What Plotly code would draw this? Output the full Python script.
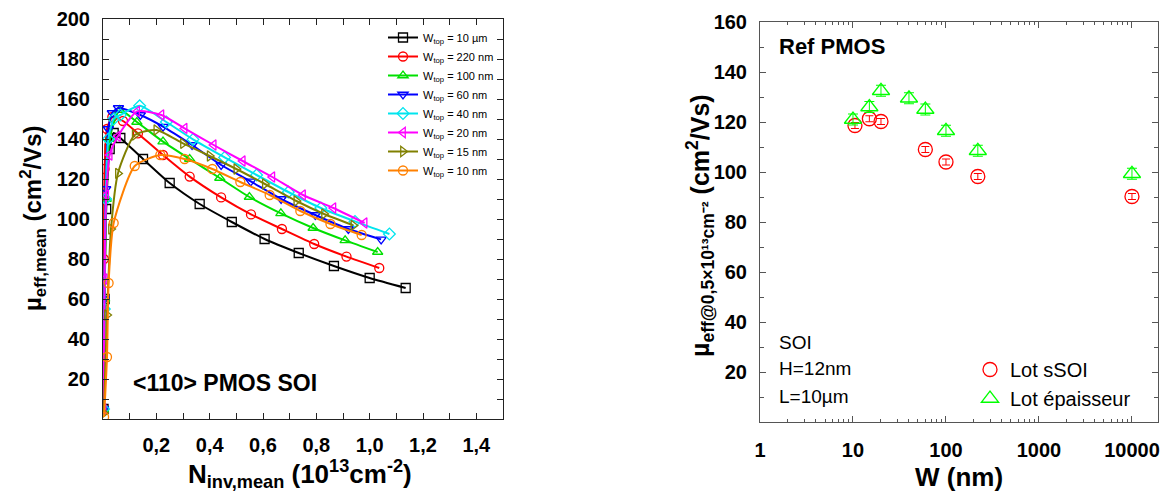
import plotly.graph_objects as go

# ---------------- Left panel data : mu_eff,mean vs N_inv,mean ----------------
N_10um = [0.002, 0.006, 0.012, 0.025, 0.04, 0.065, 0.15, 0.25, 0.3625, 0.483, 0.606, 0.734, 0.866, 1.0, 1.135]
MU_10um = [5, 60, 105, 135, 143, 140.5, 130, 118, 107.5, 98.5, 90, 83, 76.5, 70.5, 65.5]

N_220nm = [0.001, 0.003, 0.006, 0.015, 0.035, 0.075, 0.131, 0.225, 0.325, 0.443, 0.555, 0.671, 0.792, 0.913, 1.036]
MU_220nm = [5, 80, 125, 145, 151, 149, 142.8, 132, 121.2, 110.8, 102.3, 95, 87.5, 81.2, 75.5]

N_100nm = [0.002, 0.006, 0.012, 0.025, 0.0625, 0.127, 0.225, 0.325, 0.438, 0.549, 0.667, 0.788, 0.908, 1.03]
MU_100nm = [5, 60, 110, 140, 154.5, 148.5, 138.7, 130, 120.5, 111, 102.8, 95.5, 89.3, 83.5]

N_60nm = [0.002, 0.005, 0.01, 0.02, 0.035, 0.058, 0.14, 0.225, 0.334, 0.443, 0.554, 0.668, 0.796, 0.92, 1.043]
MU_60nm = [5, 60, 115, 145, 153, 155.5, 152, 146.2, 137, 127, 118.8, 110, 102, 95, 89.8]

N_40nm = [0.002, 0.005, 0.01, 0.02, 0.04, 0.065, 0.1375, 0.2375, 0.3375, 0.456, 0.576, 0.695, 0.817, 0.945, 1.074]
MU_40nm = [5, 55, 110, 140, 150, 152, 156.6, 148.5, 139.8, 130.8, 122, 113.5, 105.5, 98.8, 92.5]

N_20nm = [0.002, 0.006, 0.012, 0.025, 0.056, 0.128, 0.219, 0.306, 0.415, 0.524, 0.635, 0.75, 0.864, 0.981]
MU_20nm = [5, 70, 112, 132, 141.4, 153.8, 152, 145.3, 137, 129, 121, 112, 105.5, 98]

N_15nm = [0.003, 0.015, 0.03, 0.056, 0.119, 0.2, 0.3, 0.4, 0.5, 0.607, 0.725, 0.829, 0.939]
MU_15nm = [3, 52, 95, 122.8, 142, 144.5, 137.8, 131.5, 125, 117.5, 109, 102.5, 96.8]

N_10nm = [0.004, 0.015, 0.021, 0.04, 0.119, 0.215, 0.306, 0.41, 0.515, 0.625, 0.74, 0.853, 0.97]
MU_10nm = [1, 31, 68, 98, 126.5, 132, 130, 125, 118.5, 112, 104, 97.5, 92]

LEFT_NAMES = ["W<sub>top</sub> = 10 µm", "W<sub>top</sub> = 220 nm", "W<sub>top</sub> = 100 nm",
              "W<sub>top</sub> = 60 nm", "W<sub>top</sub> = 40 nm", "W<sub>top</sub> = 20 nm",
              "W<sub>top</sub> = 15 nm", "W<sub>top</sub> = 10 nm"]

X_TICKVALS = [0.2, 0.4, 0.6, 0.8, 1.0, 1.2, 1.4]
X_TICKTEXT = ["0,2", "0,4", "0,6", "0,8", "1,0", "1,2", "1,4"]
Y_TICKVALS = [20, 40, 60, 80, 100, 120, 140, 160, 180, 200]

# ---------------- Right panel data : mu_eff @0.5e13 vs W ----------------
W_SSOI = [10.5, 15, 20, 60, 100, 220, 10000]
MU_SSOI = [118.6, 121.3, 120.2, 109, 104, 98.2, 90.2]
W_EPAIS = [10, 15, 20, 40, 60, 100, 220, 10000]
MU_EPAIS = [121, 126, 132.5, 129.5, 125, 116.5, 108.5, 99.3]

R_X_TICKVALS = [1, 10, 100, 1000, 10000]
R_X_TICKTEXT = ["1", "10", "100", "1000", "10000"]
R_Y_TICKVALS = [20, 40, 60, 80, 100, 120, 140, 160]

# ---------------- styles ----------------
FONT = "Liberation Sans, Arial, sans-serif"
W, H = 1166, 503

left_series = [
    (N_10um, MU_10um, "#000000", "square-open"),
    (N_220nm, MU_220nm, "#ff0000", "circle-open"),
    (N_100nm, MU_100nm, "#00e000", "triangle-up-open"),
    (N_60nm, MU_60nm, "#0000ff", "triangle-down-open"),
    (N_40nm, MU_40nm, "#00e5ee", "diamond-open"),
    (N_20nm, MU_20nm, "#ff00ff", "triangle-left-open"),
    (N_15nm, MU_15nm, "#808000", "triangle-right-open"),
    (N_10nm, MU_10nm, "#ff8000", "circle-open"),
]

fig = go.Figure()
for (xs, ys, col, sym), name in zip(left_series, LEFT_NAMES):
    fig.add_trace(go.Scatter(
        x=xs, y=ys, name=name, mode="lines+markers",
        line=dict(color=col, width=2, shape="spline", smoothing=0.6),
        marker=dict(symbol=sym, size=9, color=col, line=dict(color=col, width=1.3)),
        xaxis="x", yaxis="y", legend="legend",
    ))

fig.add_trace(go.Scatter(
    x=W_SSOI, y=MU_SSOI, name="Lot sSOI", mode="markers",
    marker=dict(symbol="circle-open", size=14, color="#ff0000", line=dict(color="#ff0000", width=1.3)),
    error_y=dict(type="constant", value=1.2, color="#ff0000", thickness=1, width=4),
    xaxis="x2", yaxis="y2", legend="legend2",
))
fig.add_trace(go.Scatter(
    x=W_EPAIS, y=MU_EPAIS, name="Lot épaisseur", mode="markers",
    marker=dict(symbol="triangle-up-open", size=15, color="#00ff00", line=dict(color="#00ff00", width=1.3)),
    error_y=dict(type="constant", value=2.2, color="#00ff00", thickness=1, width=5),
    xaxis="x2", yaxis="y2", legend="legend2",
))

tickfont = dict(family=FONT, size=20, color="#000000", weight="bold")
axis_common = dict(showline=True, linecolor="#222222", linewidth=1, mirror="ticks",
                   ticks="inside", ticklen=6, tickcolor="#222222", showgrid=False,
                   zeroline=False, tickfont=tickfont, automargin=False)

fig.update_layout(
    width=W, height=H,
    margin=dict(l=0, r=0, t=0, b=0, pad=0),
    paper_bgcolor="white", plot_bgcolor="white",
    showlegend=True,
    xaxis=dict(domain=[103 / W, 503 / W], range=[0, 1.5], anchor="y",
               tickmode="array", tickvals=X_TICKVALS, ticktext=X_TICKTEXT,
               minor=dict(ticks="inside", ticklen=6, tickcolor="#222222", dtick=0.1, tick0=0),
               ticklabelstandoff=8, **axis_common),
    yaxis=dict(domain=[(H - 419) / H, (H - 19) / H], range=[0, 200], anchor="x",
               tickmode="array", tickvals=Y_TICKVALS,
               minor=dict(ticks="inside", ticklen=6, tickcolor="#222222", dtick=10, tick0=0),
               ticklabelstandoff=8, **axis_common),
    xaxis2=dict(domain=[760 / W, 1158 / W], type="log", range=[0, 4.28], anchor="y2",
                tickmode="array", tickvals=R_X_TICKVALS, ticktext=R_X_TICKTEXT,
                minor=dict(ticks="inside", ticklen=3, tickcolor="#555555",
                           tickmode="array",
                           tickvals=[m * 10 ** d for d in range(0, 5) for m in range(2, 10)]),
                ticklabelstandoff=10,
                **{**axis_common, "linecolor": "#555555", "tickcolor": "#555555"}),
    yaxis2=dict(domain=[(H - 422) / H, (H - 22) / H], range=[0, 160], anchor="x2",
                tickmode="array", tickvals=R_Y_TICKVALS,
                minor=dict(ticks="inside", ticklen=4, tickcolor="#555555", dtick=10, tick0=0),
                ticklabelstandoff=8,
                **{**axis_common, "linecolor": "#555555", "tickcolor": "#555555"}),
    legend=dict(x=383 / W, y=1 - 23 / H, xanchor="left", yanchor="top",
                bgcolor="rgba(0,0,0,0)", font=dict(family=FONT, size=11, color="#000"),
                itemwidth=30, tracegroupgap=0),
    legend2=dict(x=970 / W, y=1 - 350 / H, xanchor="left", yanchor="top",
                 bgcolor="rgba(0,0,0,0)", font=dict(family=FONT, size=20, color="#000"),
                 itemwidth=30),
)

annotations = [
    # left axis titles
    dict(text="<b>µ<sub>eff,mean</sub> (cm<sup>2</sup>/Vs)</b>", x=33 / W, y=1 - 218 / H,
         textangle=-90, font=dict(family=FONT, size=24, color="#000")),
    dict(text="<b>N<sub>inv,mean</sub> (10<sup>13</sup>cm<sup>-2</sup>)</b>", x=300 / W, y=1 - 474 / H,
         font=dict(family=FONT, size=26, color="#000")),
    dict(text="<b>&lt;110&gt; PMOS SOI</b>", x=131 / W, y=1 - 383 / H, xanchor="left",
         font=dict(family=FONT, size=23, color="#000")),
    # right axis titles
    dict(text="<b>µ<sub>eff@0,5×10¹³cm⁻²</sub> (cm<sup>2</sup>/Vs)</b>", x=700 / W, y=1 - 226 / H,
         textangle=-90, font=dict(family=FONT, size=25, color="#000")),
    dict(text="<b>W (nm)</b>", x=959 / W, y=1 - 477 / H,
         font=dict(family=FONT, size=26, color="#000")),
    dict(text="<b>Ref PMOS</b>", x=777 / W, y=1 - 46 / H, xanchor="left",
         font=dict(family=FONT, size=22, color="#000")),
    dict(text="SOI", x=777 / W, y=1 - 342 / H, xanchor="left",
         font=dict(family=FONT, size=19, color="#000")),
    dict(text="H=12nm", x=777 / W, y=1 - 368 / H, xanchor="left",
         font=dict(family=FONT, size=19, color="#000")),
    dict(text="L=10µm", x=777 / W, y=1 - 396 / H, xanchor="left",
         font=dict(family=FONT, size=19, color="#000")),
]
for a in annotations:
    a.setdefault("xanchor", "center")
    a.update(xref="paper", yref="paper", showarrow=False, yanchor="middle")
fig.update_layout(annotations=annotations)

fig.write_html("out.html", config={"displayModeBar": False},
               post_script="document.body.style.margin='0px';document.body.style.overflow='hidden';")
